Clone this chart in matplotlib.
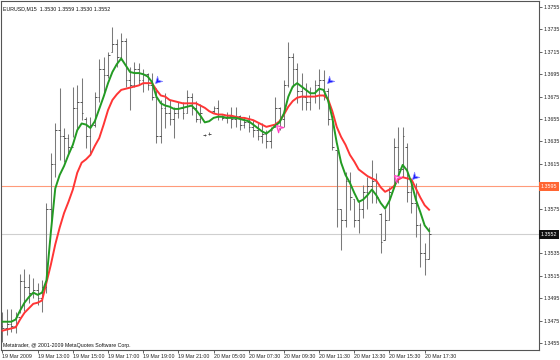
import matplotlib
matplotlib.use('Agg')
import matplotlib.pyplot as plt
from matplotlib.path import Path
from matplotlib.transforms import blended_transform_factory
import numpy as np

# ---- EURUSD M15 bars (19-20 Mar 2009) ----
opens = [1.3470, 1.3468, 1.3472, 1.3470, 1.3478, 1.3510, 1.3505, 1.3500, 1.3502, 1.3495,
         1.3505, 1.3575, 1.3615, 1.3645, 1.3640, 1.3638, 1.3630, 1.3665, 1.3670, 1.3655,
         1.3640, 1.3650, 1.3675, 1.3700, 1.3694, 1.3715, 1.3722, 1.3710, 1.3725, 1.3690,
         1.3685, 1.3700, 1.3690, 1.3695, 1.3685, 1.3675, 1.3640, 1.3665, 1.3660, 1.3655,
         1.3660, 1.3665, 1.3660, 1.3675, 1.3665, 1.3655, 1.3641, 1.3642, 1.3662, 1.3665,
         1.3658, 1.3656, 1.3658, 1.3655, 1.3658, 1.3650, 1.3652, 1.3648, 1.3645, 1.3640,
         1.3642, 1.3635, 1.3648, 1.3665, 1.3655, 1.3685, 1.3710, 1.3700, 1.3680, 1.3675,
         1.3670, 1.3678, 1.3685, 1.3690, 1.3680, 1.3655, 1.3627, 1.3575, 1.3565, 1.3600,
         1.3584, 1.3565, 1.3575, 1.3590, 1.3595, 1.3600, 1.3570, 1.3547, 1.3565, 1.3594,
         1.3630, 1.3610, 1.3630, 1.3590, 1.3580, 1.3560, 1.3535, 1.3530]
highs = [1.3483, 1.3485, 1.3485, 1.3483, 1.3517, 1.3521, 1.3517, 1.3513, 1.3509, 1.3511,
         1.3580, 1.3625, 1.3651, 1.3683, 1.3647, 1.3642, 1.3684, 1.3685, 1.3692, 1.3657,
         1.3657, 1.3679, 1.3709, 1.3710, 1.3715, 1.3737, 1.3726, 1.3732, 1.3727, 1.3701,
         1.3706, 1.3705, 1.3700, 1.3696, 1.3696, 1.3683, 1.3672, 1.3678, 1.3672, 1.3666,
         1.3670, 1.3670, 1.3681, 1.3678, 1.3671, 1.3668, 1.3642, 1.3643, 1.3667, 1.3672,
         1.3659, 1.3661, 1.3666, 1.3666, 1.3659, 1.3657, 1.3659, 1.3654, 1.3651, 1.3651,
         1.3645, 1.3648, 1.3675, 1.3666, 1.3690, 1.3724, 1.3714, 1.3705, 1.3696, 1.3687,
         1.3684, 1.3690, 1.3700, 1.3699, 1.3683, 1.3658, 1.3627, 1.3575, 1.3608, 1.3608,
         1.3584, 1.3583, 1.3596, 1.3603, 1.3618, 1.3607, 1.3571, 1.3575, 1.3594, 1.3638,
         1.3648, 1.3648, 1.3634, 1.3600, 1.3598, 1.3562, 1.3544, 1.3559]
lows = [1.3456, 1.3462, 1.3465, 1.3464, 1.3482, 1.3484, 1.3491, 1.3495, 1.3489, 1.3483,
        1.3500, 1.3562, 1.3603, 1.3618, 1.3617, 1.3625, 1.3639, 1.3645, 1.3654, 1.3629,
        1.3623, 1.3648, 1.3670, 1.3676, 1.3692, 1.3715, 1.3701, 1.3708, 1.3684, 1.3663,
        1.3684, 1.3685, 1.3679, 1.3681, 1.3672, 1.3634, 1.3634, 1.3647, 1.3650, 1.3638,
        1.3656, 1.3655, 1.3660, 1.3659, 1.3652, 1.3651, 1.3640, 1.3641, 1.3660, 1.3654,
        1.3654, 1.3651, 1.3647, 1.3648, 1.3645, 1.3647, 1.3643, 1.3639, 1.3636, 1.3634,
        1.3629, 1.3629, 1.3648, 1.3645, 1.3648, 1.3684, 1.3684, 1.3669, 1.3663, 1.3663,
        1.3663, 1.3669, 1.3664, 1.3672, 1.3650, 1.3627, 1.3559, 1.3538, 1.3559, 1.3574,
        1.3559, 1.3553, 1.3567, 1.3575, 1.3580, 1.3580, 1.3535, 1.3547, 1.3565, 1.3594,
        1.3598, 1.3603, 1.3581, 1.3571, 1.3550, 1.3523, 1.3516, 1.3530]
closes = [1.3468, 1.3472, 1.3470, 1.3478, 1.3510, 1.3505, 1.3500, 1.3502, 1.3495, 1.3505,
          1.3575, 1.3615, 1.3645, 1.3640, 1.3638, 1.3630, 1.3665, 1.3670, 1.3660, 1.3640,
          1.3650, 1.3675, 1.3700, 1.3694, 1.3712, 1.3722, 1.3710, 1.3725, 1.3690, 1.3685,
          1.3700, 1.3690, 1.3695, 1.3685, 1.3675, 1.3640, 1.3665, 1.3660, 1.3655, 1.3660,
          1.3665, 1.3660, 1.3675, 1.3665, 1.3655, 1.3660, 1.3641, 1.3642, 1.3665, 1.3658,
          1.3656, 1.3658, 1.3655, 1.3658, 1.3650, 1.3652, 1.3648, 1.3645, 1.3640, 1.3642,
          1.3635, 1.3645, 1.3665, 1.3655, 1.3685, 1.3710, 1.3700, 1.3680, 1.3675, 1.3670,
          1.3678, 1.3685, 1.3690, 1.3680, 1.3655, 1.3630, 1.3575, 1.3565, 1.3600, 1.3585,
          1.3565, 1.3575, 1.3590, 1.3595, 1.3600, 1.3585, 1.3545, 1.3565, 1.3590, 1.3630,
          1.3610, 1.3640, 1.3590, 1.3580, 1.3560, 1.3535, 1.3530, 1.3552]

# indicator lines
fast_ma = [1.3474, 1.3474, 1.3474, 1.3476, 1.3484, 1.3491, 1.3496, 1.3500, 1.3498, 1.3500,
           1.3511, 1.3554, 1.3593, 1.3605, 1.3613, 1.3623, 1.3632, 1.3645, 1.3651, 1.3650,
           1.3647, 1.3653, 1.3664, 1.3675, 1.3687, 1.3697, 1.3704, 1.3709, 1.3703, 1.3697,
           1.3696, 1.3696, 1.3695, 1.3693, 1.3688, 1.3675, 1.3669, 1.3667, 1.3666, 1.3664,
           1.3664, 1.3665, 1.3666, 1.3667, 1.3663, 1.3658, 1.3652, 1.3653, 1.3656, 1.3657,
           1.3657, 1.3656, 1.3656, 1.3656, 1.3655, 1.3654, 1.3653, 1.3650, 1.3647, 1.3644,
           1.3642, 1.3645, 1.3649, 1.3652, 1.3660, 1.3675, 1.3684, 1.3687, 1.3684, 1.3681,
           1.3678, 1.3678, 1.3682, 1.3681, 1.3672, 1.3656, 1.3634, 1.3616, 1.3605, 1.3598,
           1.3589, 1.3581, 1.3583, 1.3587, 1.3592, 1.3587, 1.3580, 1.3575, 1.3582, 1.3593,
           1.3604, 1.3614, 1.3609, 1.3598, 1.3583, 1.3572, 1.3560, 1.3555]
slow_ma = [1.3466, 1.3467, 1.3468, 1.3469, 1.3476, 1.3482, 1.3486, 1.3490, 1.3491, 1.3493,
           1.3509, 1.3525, 1.3543, 1.3558, 1.3571, 1.3581, 1.3592, 1.3607, 1.3616, 1.3619,
           1.3623, 1.3631, 1.3638, 1.3650, 1.3663, 1.3672, 1.3677, 1.3681, 1.3682, 1.3683,
           1.3684, 1.3685, 1.3687, 1.3687, 1.3687, 1.3681, 1.3676, 1.3675, 1.3672, 1.3671,
           1.3670, 1.3669, 1.3669, 1.3669, 1.3669, 1.3667, 1.3665, 1.3662, 1.3660, 1.3659,
           1.3659, 1.3658, 1.3658, 1.3657, 1.3656, 1.3656, 1.3655, 1.3654, 1.3652, 1.3650,
           1.3648, 1.3649, 1.3650, 1.3653, 1.3659, 1.3666, 1.3671, 1.3674, 1.3675, 1.3675,
           1.3675, 1.3675, 1.3676, 1.3676, 1.3673, 1.3662, 1.3648, 1.3639, 1.3632, 1.3623,
           1.3617, 1.3610, 1.3607, 1.3604, 1.3602, 1.3600, 1.3594, 1.3590, 1.3592, 1.3595,
           1.3601, 1.3603, 1.3602, 1.3601, 1.3593, 1.3585, 1.3578, 1.3574]

# signal arrows: bar number and price
sell_bars = [34.7, 73.8, 93.1]
sell_prices = [1.3687, 1.3687, 1.3601]
buy_bars = [62.3, 89.1]
buy_prices = [1.3650, 1.3605]

label_bars = [0, 8, 16, 24, 32, 40, 48, 56, 64, 72, 80, 88, 96]
time_labels = ['19 Mar 2009', '19 Mar 13:00', '19 Mar 15:00', '19 Mar 17:00',
               '19 Mar 19:00', '19 Mar 21:00', '20 Mar 05:00', '20 Mar 07:30',
               '20 Mar 09:30', '20 Mar 11:30', '20 Mar 13:30', '20 Mar 15:30',
               '20 Mar 17:30']
price_ticks = [1.3755, 1.3735, 1.3715, 1.3695, 1.3675, 1.3655, 1.3635, 1.3615,
               1.3595, 1.3575, 1.3555, 1.3535, 1.3515, 1.3495, 1.3475, 1.3455]
alert_level = 1.3595
bid_level = 1.3552

plt.rcParams['font.family'] = ['Liberation Sans', 'DejaVu Sans']
fs = 3.8

fig = plt.figure(figsize=(5.6, 3.6), dpi=100)
fig.patch.set_facecolor('white')
ax = fig.add_axes([1/560, 10/360, 538/560, 349/360])
ax.set_xlim(-0.34, 122.0)
ax.set_ylim(1.344875, 1.376036)

# horizontal lines
ax.axhline(alert_level, color='#ff9a7a', lw=0.8, zorder=1)
ax.axhline(bid_level, color='#cfcfcf', lw=0.8, zorder=1)

# OHLC bars
idx = np.arange(len(closes))
ax.vlines(idx, lows, highs, color='#7a7a7a', lw=0.75, zorder=2)
ax.hlines(opens, idx - 0.38, idx, color='#3a3a3a', lw=0.6, zorder=2)
ax.hlines(closes, idx, idx + 0.38, color='#3a3a3a', lw=0.6, zorder=2)

# moving averages
ax.plot(idx, slow_ma, color='#ff3535', lw=1.4, zorder=3, solid_joinstyle='round')
ax.plot(idx, fast_ma, color='#239b23', lw=1.4, zorder=4, solid_joinstyle='round')

# arrow markers (tip at the point)
base = np.array([[0, 0], [-0.55, 1.0], [0, 0.65], [0.55, 1.0], [0, 0]])
def rotated(deg):
  a = np.deg2rad(deg)
  r = np.array([[np.cos(a), -np.sin(a)], [np.sin(a), np.cos(a)]])
  return Path(base @ r.T, closed=True)

ax.scatter(sell_bars, sell_prices, marker=rotated(-45), s=110, facecolor='#1a1aff',
           edgecolor='#8080ff', lw=0.5, zorder=5)
ax.scatter(buy_bars, buy_prices, marker=rotated(-135), s=110, facecolor='#ffd0f0',
           edgecolor='#ff3cc0', lw=0.8, zorder=5)

# axes styling
for s in ax.spines.values():
  s.set_color('#555555')
  s.set_linewidth(0.8)
ax.yaxis.tick_right()
ax.set_yticks(price_ticks)
# labels under the two price boxes are hidden by the boxes
ax.set_yticklabels(['' if p in (alert_level, 1.3555) else '%.4f' % p for p in price_ticks])
ax.tick_params(axis='y', length=2, width=0.5, pad=1.5, labelsize=fs, colors='#222222')
ax.set_xticks(label_bars)
ax.set_xticklabels(time_labels, ha='left')
ax.tick_params(axis='x', length=2, width=0.5, pad=1, labelsize=fs, colors='#222222')

# price boxes on the right scale
tr = blended_transform_factory(ax.transAxes, ax.transData)
ax.text(1.003, alert_level, '%.4f' % alert_level, transform=tr, fontsize=fs,
        color='white', va='center', ha='left', zorder=10, clip_on=False,
        bbox=dict(boxstyle='square,pad=0.35', fc='#ff6633', ec='none'))
ax.text(1.003, bid_level, '%.4f' % bid_level, transform=tr, fontsize=fs,
        color='white', va='center', ha='left', zorder=10, clip_on=False,
        bbox=dict(boxstyle='square,pad=0.35', fc='#111111', ec='none'))

# captions
ax.text(0.004, 0.985, 'EURUSD,M15  1.3530 1.3559 1.3530 1.3552', transform=ax.transAxes,
        fontsize=fs, va='top', ha='left', color='#111111')
ax.text(0.004, 0.006, 'Metatrader, @ 2001-2009 MetaQuotes Software Corp.',
        transform=ax.transAxes, fontsize=fs, va='bottom', ha='left', color='#111111')

fig.savefig('out.png', dpi=100, facecolor='white')
